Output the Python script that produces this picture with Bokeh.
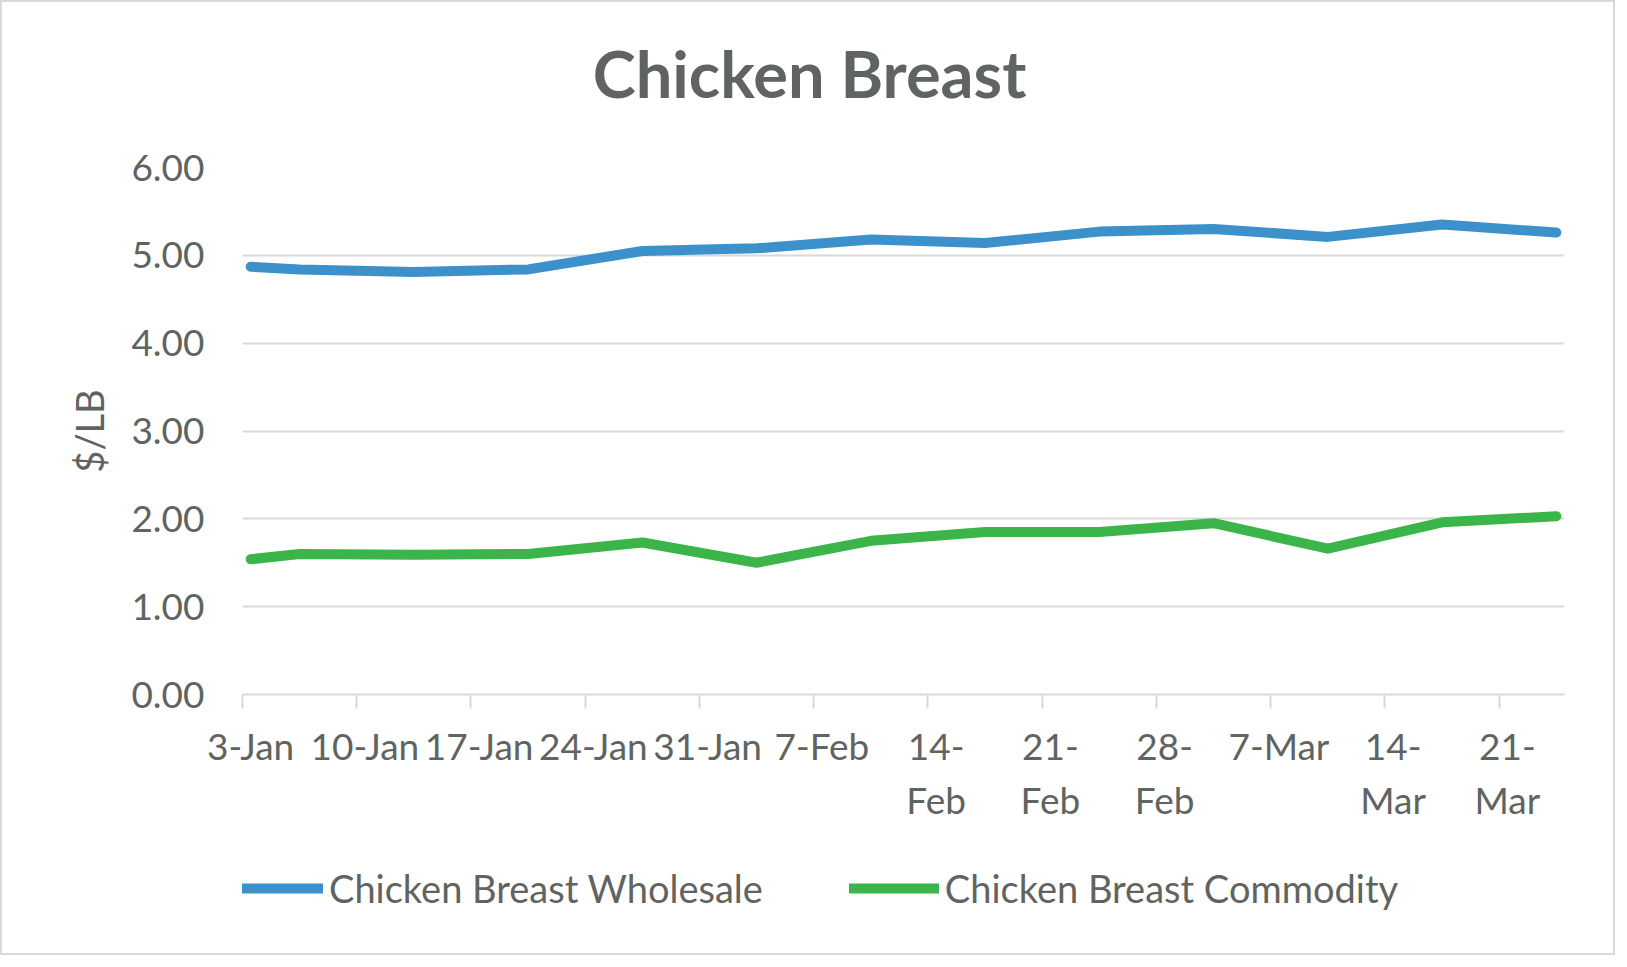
import pandas as pd
from bokeh.plotting import figure
from bokeh.layouts import column
from bokeh.models import (ColumnDataSource, FixedTicker, NumeralTickFormatter,
                          Legend, LegendItem, Label, LinearAxis)
from bokeh.embed import file_html
from bokeh.resources import INLINE

# ---- data ----
dates = ["2020-01-03", "2020-01-06", "2020-01-13", "2020-01-20", "2020-01-27",
         "2020-02-03", "2020-02-10", "2020-02-17", "2020-02-24", "2020-03-02",
         "2020-03-09", "2020-03-16", "2020-03-23"]
wholesale = [4.87, 4.84, 4.81, 4.84, 5.05, 5.08, 5.18, 5.14, 5.27, 5.30, 5.21, 5.35, 5.26]
commodity = [1.54, 1.60, 1.59, 1.60, 1.73, 1.50, 1.75, 1.85, 1.85, 1.95, 1.66, 1.96, 2.03]
tick_labels = ["3-Jan", "10-Jan", "17-Jan", "24-Jan", "31-Jan", "7-Feb",
               "14-\nFeb", "21-\nFeb", "28-\nFeb", "7-Mar", "14-\nMar", "21-\nMar"]
series_names = ["Chicken Breast Wholesale", "Chicken Breast Commodity"]
title_text = "Chicken Breast"
axis_start = "2020-01-03"
axis_days = 81

start = pd.Timestamp(axis_start)
xs = [(pd.Timestamp(d) - start).days + 0.5 for d in dates]
tick_pos = [7 * i for i in range(len(tick_labels))]
LABEL_SHIFT = 0.5  # labels sit slightly right of their tick marks
label_pos = [tp + LABEL_SHIFT for tp in tick_pos]

src = ColumnDataSource(dict(x=xs, w=wholesale, c=commodity))

TXT = "#5f6460"
GRID = "#d9d9d9"
FONT = "Lato"
BLUE = "#3d91cb"
GREEN = "#3bb54a"
LW = 10
FS = "37px"

W = 1611
H0, H1, H2 = 140, 702, 109
ML, MR = 240, 49

# ---- title strip ----
p0 = figure(width=W, height=H0, output_backend="svg", toolbar_location=None,
            x_range=(0, 1), y_range=(0, 1),
            min_border_left=ML, min_border_right=MR, min_border_top=0, min_border_bottom=0)
p0.axis.visible = False
p0.grid.visible = False
p0.outline_line_color = None
p0.border_fill_color = "white"
p0.add_layout(Label(x=567, y=H0 - 70, x_units="screen", y_units="screen",
                    text=title_text, text_align="center", text_baseline="middle",
                    text_font=FONT, text_font_size="65px", text_font_style="bold",
                    text_color=TXT))

# ---- chart ----
p = figure(width=W, height=H1, output_backend="svg", toolbar_location=None,
           x_range=(0, axis_days), y_range=(0, 6),
           min_border_left=ML, min_border_right=MR,
           min_border_top=165 - H0, min_border_bottom=150)
p.outline_line_color = None
p.background_fill_color = "white"
p.border_fill_color = "white"

r1 = p.line("x", "w", source=src, line_color=BLUE, line_width=LW,
            line_cap="round", line_join="round")
r2 = p.line("x", "c", source=src, line_color=GREEN, line_width=LW,
            line_cap="round", line_join="round")

# y axis
p.yaxis.ticker = FixedTicker(ticks=[0, 1, 2, 3, 4, 5, 6])
p.yaxis.formatter = NumeralTickFormatter(format="0.00")
p.yaxis.axis_line_color = None
p.yaxis.major_tick_line_color = None
p.yaxis.minor_tick_line_color = None
p.yaxis.major_label_standoff = 32
p.yaxis.major_label_text_font = FONT
p.yaxis.major_label_text_font_size = FS
p.yaxis.major_label_text_color = TXT
p.yaxis.axis_label = "$/LB"
p.yaxis.axis_label_text_font = FONT
p.yaxis.axis_label_text_font_size = "38px"
p.yaxis.axis_label_text_font_style = "normal"
p.yaxis.axis_label_text_color = TXT
p.yaxis.axis_label_standoff = 16

# x axis: line + tick marks
p.xaxis.ticker = FixedTicker(ticks=tick_pos)
p.xaxis.axis_line_color = GRID
p.xaxis.axis_line_width = 2
p.xaxis.major_tick_line_color = GRID
p.xaxis.major_tick_line_width = 2
p.xaxis.major_tick_in = 0
p.xaxis.major_tick_out = 14
p.xaxis.minor_tick_line_color = None
p.xaxis.major_label_text_font_size = "1px"
p.xaxis.major_label_text_alpha = 0
p.xaxis.major_label_standoff = 0

# x axis: category labels
lab_axis = LinearAxis(ticker=FixedTicker(ticks=label_pos),
                      major_label_overrides={lp: lab for lp, lab in zip(label_pos, tick_labels)},
                      axis_line_color=None, major_tick_line_color=None,
                      minor_tick_line_color=None, major_tick_in=0, major_tick_out=0,
                      major_label_standoff=14, major_label_text_font=FONT,
                      major_label_text_font_size=FS, major_label_text_color=TXT,
                      major_label_text_line_height=1.2)
p.add_layout(lab_axis, "below")

p.xgrid.grid_line_color = None
p.ygrid.grid_line_color = GRID
p.ygrid.grid_line_width = 2

# ---- legend strip ----
# the series are drawn here outside its visible range, only for the legend keys
p2 = figure(width=W, height=H2, output_backend="svg", toolbar_location=None,
            x_range=(0, 1), y_range=(100, 101),
            min_border_left=ML, min_border_right=MR, min_border_top=0, min_border_bottom=0)
p2.axis.visible = False
p2.grid.visible = False
p2.outline_line_color = None
p2.border_fill_color = "white"
l1 = p2.line("x", "w", source=src, line_color=BLUE, line_width=LW, line_cap="round")
l2 = p2.line("x", "c", source=src, line_color=GREEN, line_width=LW, line_cap="round")
legend = Legend(items=[LegendItem(label=series_names[0], renderers=[l1]),
                       LegendItem(label=series_names[1], renderers=[l2])],
                orientation="horizontal", location=(-9, 42),
                glyph_width=90, glyph_height=12, label_standoff=6, spacing=86,
                label_text_font=FONT, label_text_font_size="38px",
                label_text_color=TXT, border_line_color=None,
                background_fill_alpha=0, padding=0, margin=0)
p2.add_layout(legend, "center")

layout = column(p0, p, p2, spacing=0,
                styles={"border": "2px solid #d9d9d9", "box-sizing": "border-box"})

open("out.html", "w").write(file_html(layout, INLINE))
